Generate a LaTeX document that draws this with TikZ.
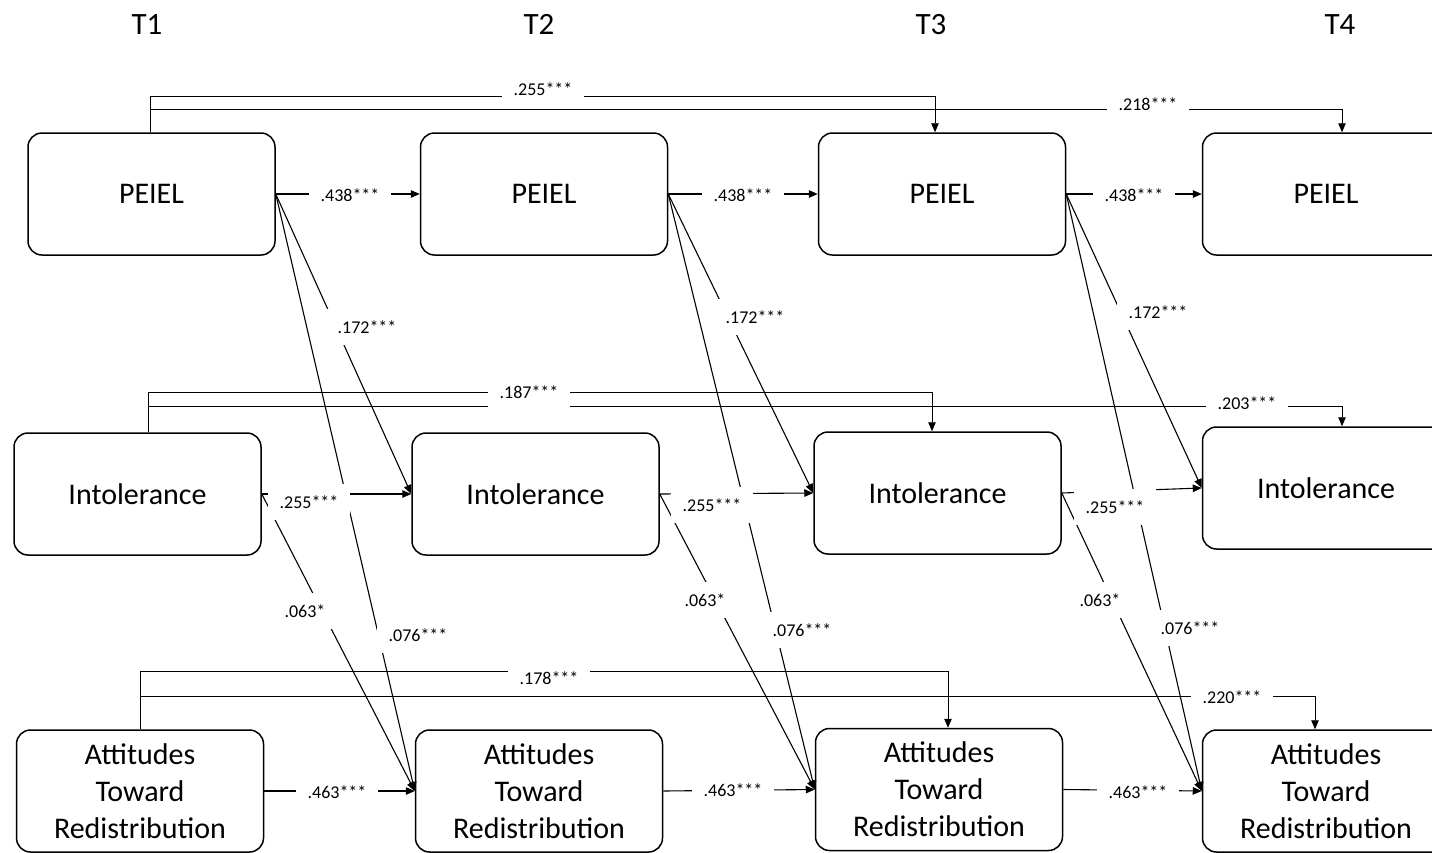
\documentclass[tikz,border=0pt]{standalone}
\usepackage{fontspec}
\setmainfont{Carlito}
\usetikzlibrary{arrows.meta}
\newcommand{\drawa}{\draw[line width=1.1pt,->]}
\newcommand{\drawl}{\draw[line width=0.9pt,->]}

\begin{document}
\begin{tikzpicture}[x=1pt,y=-1pt,>={Triangle[length=9pt,width=7.5pt]},
  box/.style={draw,line width=1.5pt,rounded corners=14pt,minimum width=247pt,minimum height=122pt,
    align=center,inner sep=0pt,font=\fontsize{30}{37}\selectfont},
  coef/.style={fill=white,inner xsep=12pt,inner ysep=0pt,minimum height=36pt,font=\fontsize{18}{20}\selectfont},
  wave/.style={anchor=base,font=\fontsize{31}{37}\selectfont}]
\useasboundingbox (0,0) rectangle (1432,852);
\clip (0,0) rectangle (1432,852);

% Time points
\node[wave] (t1) at (147,34) {T1};
\node[wave] (t2) at (539,34) {T2};
\node[wave] (t3) at (931,34) {T3};
\node[wave] (t4) at (1340,34) {T4};

% Boxes
\node[box] (p1) at (151.5,194) {PEIEL};
\node[box] (p2) at (544,194) {PEIEL};
\node[box] (p3) at (942,194) {PEIEL};
\node[box] (p4) at (1326,194) {PEIEL};

\node[box] (i1) at (137.5,494) {Intolerance};
\node[box] (i2) at (535.5,494) {Intolerance};
\node[box] (i3) at (937.5,493) {Intolerance};
\node[box] (i4) at (1326,488) {Intolerance};

\node[box] (a1) at (140,791) {Attitudes\\Toward\\Redistribution};
\node[box] (a2) at (539,791) {Attitudes\\Toward\\Redistribution};
\node[box] (a3) at (939,789.5) {Attitudes\\Toward\\Redistribution};
\node[box] (a4) at (1326,791) {Attitudes\\Toward\\Redistribution};

% Lag-2 paths
\drawl ([xshift=-1.5pt]p1.north) |- ([xshift=-7pt,yshift=36.3pt]p3.north) -- ([xshift=-7pt]p3.north);
\drawl ([xshift=-1.5pt,yshift=23pt]p1.north) -| ([xshift=16pt]p4.north);
\drawl ([xshift=10.5pt]i1.north) |- ([xshift=-5.5pt,yshift=39.3pt]i3.north) -- ([xshift=-5.5pt]i3.north);
\drawl ([xshift=10.5pt,yshift=26.3pt]i1.north) -| ([xshift=16pt]i4.north);
\drawl (a1.north) |- ([xshift=9pt,yshift=56pt]a3.north) -- ([xshift=9pt]a3.north);
\drawl ([yshift=33pt]a1.north) -| ([xshift=-11pt]a4.north);

% Cross-lagged paths
\drawa (p1.east) -- (i2.west);
\drawa (p1.east) -- (a2.west);
\drawa (i1.east) -- (a2.west);
\drawa (p2.east) -- (i3.west);
\drawa (p2.east) -- (a3.west);
\drawa (i2.east) -- (a3.west);
\drawa (p3.east) -- (i4.west);
\drawa (p3.east) -- (a4.west);
\drawa (i3.east) -- (a4.west);

% Autoregressive paths
\drawa (p1.east) -- (p2.west);
\drawa (p2.east) -- (p3.west);
\drawa (p3.east) -- (p4.west);
\drawa (i1.east) -- (i2.west);
\drawa (i2.east) -- (i3.west);
\drawa (i3.east) -- (i4.west);
\drawa (a1.east) -- (a2.west);
\drawa (a2.east) -- (a3.west);
\drawa (a3.east) -- (a4.west);

% Coefficients
\node[coef] (cp12) at (350,195) {.438***};
\node[coef] (cp23) at (743,195) {.438***};
\node[coef] (cp34) at (1134,195) {.438***};
\node[coef] (ci12) at (309,502) {.255***};
\node[coef] (ci23) at (712,505) {.255***};
\node[coef] (ci34) at (1115,507) {.255***};
\node[coef] (ca12) at (337,792) {.463***};
\node[coef] (ca23) at (733,790) {.463***};
\node[coef] (ca34) at (1138,792) {.463***};

\node[coef] (cpi2) at (367,327) {.172***};
\node[coef] (cpi3) at (755,317) {.172***};
\node[coef] (cpi4) at (1158,312) {.172***};
\node[coef] (cpa2) at (418,635) {.076***};
\node[coef] (cpa3) at (802,630) {.076***};
\node[coef] (cpa4) at (1190,628) {.076***};
\node[coef] (cia2) at (305,611) {.063*};
\node[coef] (cia3) at (705,600) {.063*};
\node[coef] (cia4) at (1100,600) {.063*};

\node[coef,minimum height=20pt] (cp13) at (543,89) {.255***};
\node[coef] (cp14) at (1148,104) {.218***};
\node[coef] (ci13) at (529,392) {.187***};
\node[coef] (ci14) at (1247,403) {.203***};
\node[coef,minimum height=20pt] (ca13) at (549,678) {.178***};
\node[coef] (ca14) at (1232,697) {.220***};

\end{tikzpicture}
\end{document}
